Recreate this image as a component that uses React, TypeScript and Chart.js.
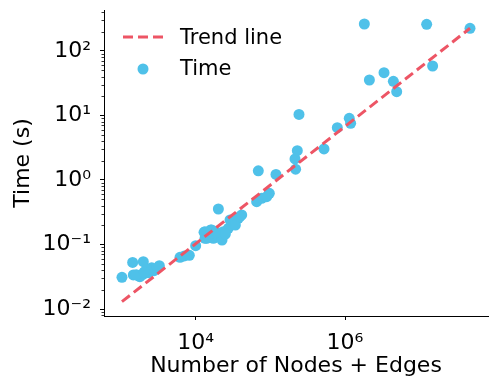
import React, { useEffect, useRef } from "react";
import { Chart, registerables } from "chart.js";

Chart.register(...registerables);

// ---- data ----
const sizeValues = [
  1030, 1432, 1991, 1462, 1706, 1991, 2323, 2576, 2768, 3262, 2208, 1795, 1600, 2050,
  6166, 7046, 8222, 10000,
  12940, 13330, 13340, 14050, 14790, 15890, 16400, 17220, 17260, 20090, 22540, 23440,
  27350, 28840, 31910, 37230, 41310, 20130, 19000, 25000, 34000, 39000,
  65600, 76500, 89300, 96900, 69000, 119000, 214000, 218000, 229700, 242000,
  523000, 789000, 1140000, 1190000, 1815000, 2120000, 3330000, 4440000, 4920000,
  12400000, 14900000, 47200000,
];
const timeValues = [
  0.031, 0.0528, 0.0542, 0.0337, 0.0325, 0.0349, 0.0366, 0.0437, 0.0393, 0.047, 0.0412, 0.0317, 0.034, 0.0375,
  0.0632, 0.0664, 0.0679, 0.096,
  0.1545, 0.1248, 0.158, 0.125, 0.129, 0.168, 0.168, 0.125, 0.149, 0.14, 0.117, 0.158,
  0.178, 0.24, 0.213, 0.255, 0.287, 0.355, 0.155, 0.145, 0.2, 0.27,
  0.461, 0.52, 0.551, 0.622, 1.39, 1.22, 2.12, 1.47, 2.85, 10.4,
  3.03, 6.47, 9.05, 7.57, 262, 35.5, 46.1, 33.9, 23.4,
  259, 58.5, 225,
];
const trendX = [1030, 47200000];
const trendY = [0.013, 225];
const xTickValues = [1e4, 1e6];
const yTickValues = [1e-2, 1e-1, 1, 10, 100];
const seriesLabels = ["Trend line", "Time"];
const xTitle = "Number of Nodes + Edges";
const yTitle = "Time (s)";

const BLUE = "#4FC1E9";
const RED = "#ED5565";
const FONT = "'DejaVu Sans', sans-serif";

const SUP: Record<string, string> = {
  "0": "\u2070", "1": "\u00B9", "2": "\u00B2", "3": "\u00B3", "4": "\u2074",
  "5": "\u2075", "6": "\u2076", "7": "\u2077", "8": "\u2078", "9": "\u2079", "-": "\u207B",
};
function powLabel(v: number): string {
  const e = Math.round(Math.log10(v));
  return "10" + String(e).split("").map((c) => SUP[c]).join("");
}

const decorPlugin = {
  id: "decor",
  afterDraw(chart: any) {
    const ctx = chart.ctx as CanvasRenderingContext2D;
    const ys = chart.scales.y;
    const area = chart.chartArea;
    ctx.save();
    // minor ticks on y
    ctx.strokeStyle = "#000";
    ctx.lineWidth = 0.8;
    for (let e = -4; e <= 4; e++) {
      for (let m = 2; m <= 9; m++) {
        const v = m * Math.pow(10, e);
        if (v < ys.min || v > ys.max) continue;
        const py = Math.round(ys.getPixelForValue(v)) + 0.5;
        ctx.beginPath();
        ctx.moveTo(area.left - 2.5, py);
        ctx.lineTo(area.left, py);
        ctx.stroke();
      }
    }
    // legend
    const lx = area.left + 19;
    const ly = area.top + 27;
    ctx.strokeStyle = RED;
    ctx.lineWidth = 3;
    ctx.setLineDash([10, 5]);
    ctx.beginPath();
    ctx.moveTo(lx, ly);
    ctx.lineTo(lx + 40, ly);
    ctx.stroke();
    ctx.setLineDash([]);
    ctx.fillStyle = BLUE;
    ctx.beginPath();
    ctx.arc(lx + 20, area.top + 59, 5.5, 0, Math.PI * 2);
    ctx.fill();
    ctx.fillStyle = "#000";
    ctx.font = `21px ${FONT}`;
    ctx.textBaseline = "middle";
    ctx.textAlign = "left";
    ctx.fillText(seriesLabels[0], area.left + 76, ly + 1.5);
    ctx.fillText(seriesLabels[1], area.left + 76, area.top + 59.5);
    ctx.restore();
  },
};

export default function App() {
  const ref = useRef<HTMLCanvasElement | null>(null);
  useEffect(() => {
    if (!ref.current) return;
    Chart.defaults.font.family = FONT;
    const chart = new Chart(ref.current, {
      type: "scatter",
      data: {
        datasets: [
          {
            type: "line",
            label: seriesLabels[0],
            data: trendX.map((x, i) => ({ x, y: trendY[i] })),
            borderColor: RED,
            borderWidth: 3,
            borderDash: [10, 5],
            pointRadius: 0,
            fill: false,
            tension: 0,
          },
          {
            type: "scatter",
            label: seriesLabels[1],
            data: sizeValues.map((x, i) => ({ x, y: timeValues[i] })),
            backgroundColor: BLUE,
            borderWidth: 0,
            pointRadius: 5.5,
            pointHoverRadius: 5.5,
          },
        ],
      } as any,
      options: {
        animation: false,
        responsive: false,
        devicePixelRatio: 1,
        layout: { padding: { top: 10, right: 10, left: 0, bottom: 0 } },
        plugins: { legend: { display: false }, tooltip: { enabled: false } },
        scales: {
          x: {
            type: "logarithmic",
            min: 592,
            max: 8.22e7,
            afterFit(s: any) { s.height = 73; s.paddingLeft = 0; s.paddingRight = 0; },
            afterBuildTicks(s: any) { s.ticks = xTickValues.map((v) => ({ value: v })); },
            ticks: {
              callback: (v: any) => powLabel(Number(v)),
              font: { size: 22, family: FONT },
              color: "#000",
              padding: 10,
              maxRotation: 0,
              autoSkip: false,
            },
            grid: { display: true, drawOnChartArea: false, drawTicks: true, tickLength: 4, color: "#000", tickColor: "#000", lineWidth: 1 },
            border: { display: true, color: "#000", width: 1 },
            title: { display: true, text: xTitle, font: { size: 22, family: FONT }, color: "#000", padding: { top: 0, bottom: 10 } },
          },
          y: {
            type: "logarithmic",
            min: 0.00779,
            max: 432,
            afterFit(s: any) { s.width = 104; s.paddingTop = 0; s.paddingBottom = 0; },
            afterBuildTicks(s: any) { s.ticks = yTickValues.map((v) => ({ value: v })); },
            ticks: {
              callback: (v: any) => powLabel(Number(v)),
              font: { size: 22, family: FONT },
              color: "#000",
              padding: 9,
              autoSkip: false,
            },
            grid: { display: true, drawOnChartArea: false, drawTicks: true, tickLength: 4, color: "#000", tickColor: "#000", lineWidth: 1 },
            border: { display: true, color: "#000", width: 1 },
            title: { display: true, text: yTitle, font: { size: 22, family: FONT }, color: "#000", padding: { top: 10, bottom: 0 } },
          },
        },
      } as any,
      plugins: [decorPlugin],
    });
    return () => chart.destroy();
  }, []);
  return (
    <div style={{ position: "absolute", left: 0, top: 0, width: 498, height: 389, background: "#fff" }}>
      <canvas ref={ref} width={498} height={389} style={{ width: 498, height: 389, display: "block" }} />
    </div>
  );
}
